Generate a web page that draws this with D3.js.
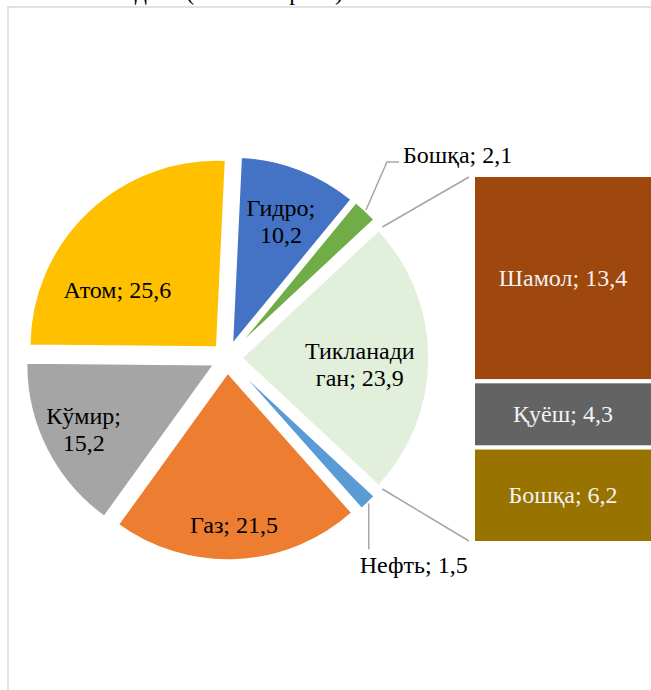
<!DOCTYPE html>
<html>
<head>
<meta charset="utf-8">
<script src="https://cdn.jsdelivr.net/npm/d3@7"></script>
<style>
  body { margin: 0; background: #fff; }
  svg { display: block; }
</style>
</head>
<body>
<script>
var width = 651,
  height = 690;

var FONT = "'Liberation Serif'";

// pie slices, clockwise, starting right after the combined slice
var pieCategories = ["Нефть", "Газ", "Кўмир", "Атом", "Гидро", "Бошқа"];
var pieValues = [1.5, 21.5, 15.2, 25.6, 10.2, 2.1];
var pieColors = ["#5B9BD5", "#ED7D31", "#A5A5A5", "#FFC000", "#4472C4", "#70AD47"];

// the combined slice, broken out into the bar on the right
var combinedCategory = "Тикланадиган";
var combinedColor = "#E2EFDA";
var barCategories = ["Шамол", "Қуёш", "Бошқа"];
var barValues = [13.4, 4.3, 6.2];
var barColors = ["#9E480E", "#636363", "#997300"];

var titleText = "2020 йилдаги (жами энергия)";

var cx = 227, cy = 358, radius = 187, explode = 15;

var fmt = function (v) { return d3.format(".1f")(v).replace(".", ","); };

// label placement: angle (deg, clockwise from top) and distance from pie centre
var insideLabels = {
  "Тикланадиган": { a: 93, r: 133, breakAt: 9 },
  "Газ": { a: 177.6, r: 167 },
  "Кўмир": { a: 243.6, r: 160, breakAt: 6 },
  "Атом": { a: 301.8, r: 129 },
  "Гидро": { a: 21.5, r: 147, breakAt: 6 }
};
// outside labels: leader elbow offset from slice edge
var outsideLabels = {
  "Бошқа": { elbow: [21, -48], tail: 12, side: "right" },
  "Нефть": { elbow: [0, 46], side: "below" }
};

var svg = d3.select("body").append("svg")
  .attr("width", width)
  .attr("height", height)
  .style("font-family", FONT);

// chart frame (cropped)
svg.append("rect")
  .attr("x", 8)
  .attr("y", 7)
  .attr("width", width + 20)
  .attr("height", height + 20)
  .attr("fill", "#fff")
  .attr("stroke", "#d9d9d9")
  .attr("stroke-width", 1.5);

// title, mostly above the visible area (as in the cropped original)
svg.append("text")
  .attr("x", 43)
  .attr("y", 0)
  .style("font-family", FONT)
  .attr("font-size", 24)
  .attr("fill", "#000")
  .text(titleText);

var combinedValue = d3.sum(barValues);
var total = combinedValue + d3.sum(pieValues);

var slices = [{ name: combinedCategory, value: combinedValue, color: combinedColor }]
  .concat(pieCategories.map(function (c, i) {
    return { name: c, value: pieValues[i], color: pieColors[i] };
  }));

var half = Math.PI * combinedValue / total;
var pie = d3.pie()
  .sort(null)
  .value(function (d) { return d.value; })
  .startAngle(Math.PI / 2 - half)
  .endAngle(Math.PI / 2 - half + 2 * Math.PI);

var arc = d3.arc().innerRadius(0).outerRadius(radius);
var arcs = pie(slices);

function offset(d) {
  var m = (d.startAngle + d.endAngle) / 2;
  return [cx + explode * Math.sin(m), cy - explode * Math.cos(m)];
}

var g = svg.append("g");

g.selectAll("path")
  .data(arcs)
  .enter()
  .append("path")
  .attr("transform", function (d) { var o = offset(d); return "translate(" + o[0] + "," + o[1] + ")"; })
  .attr("d", arc)
  .attr("fill", function (d) { return d.data.color; })
  .attr("stroke", "#fff")
  .attr("stroke-width", 1.5);

// inside labels
arcs.forEach(function (d) {
  var lab = insideLabels[d.data.name];
  if (!lab) return;
  var txt = d.data.name + "; " + fmt(d.data.value);
  var lines = lab.breakAt ? [txt.slice(0, lab.breakAt), txt.slice(lab.breakAt).trim()] : [txt];
  var a = lab.a * Math.PI / 180;
  var x = cx + lab.r * Math.sin(a), y = cy - lab.r * Math.cos(a);
  var t = svg.append("text")
    .attr("text-anchor", "middle")
    .style("font-family", FONT)
    .attr("font-size", 24)
    .attr("fill", "#000");
  lines.forEach(function (l, i) {
    t.append("tspan")
      .attr("x", x)
      .attr("y", y + (i - (lines.length - 1) / 2) * 27)
      .attr("dominant-baseline", "central")
      .text(l);
  });
});

// outside labels with leader lines
arcs.forEach(function (d) {
  var lab = outsideLabels[d.data.name];
  if (!lab) return;
  var o = offset(d);
  var m = (d.startAngle + d.endAngle) / 2;
  var p0 = [o[0] + (radius + 1) * Math.sin(m), o[1] - (radius + 1) * Math.cos(m)];
  var p1 = [p0[0] + lab.elbow[0], p0[1] + lab.elbow[1]];
  var pts = [p0, p1];
  var txt = d.data.name + "; " + fmt(d.data.value);
  var t = svg.append("text")
    .style("font-family", FONT)
    .attr("font-size", 24)
    .attr("fill", "#000")
    .attr("dominant-baseline", "central")
    .text(txt);
  if (lab.side === "right") {
    var p2 = [p1[0] + lab.tail, p1[1]];
    pts.push(p2);
    t.attr("x", p2[0] + 4).attr("y", p2[1] - 7);
  } else {
    t.attr("x", p1[0] - 9).attr("y", p1[1] + 16);
  }
  svg.append("path")
    .attr("d", d3.line()(pts))
    .attr("fill", "none")
    .attr("stroke", "#a6a6a6")
    .attr("stroke-width", 1.5);
});

// bar of the combined slice
var barX = 473, barW = 180;
var y = d3.scaleLinear()
  .domain([0, combinedValue])
  .range([175, 543]);

var stack = d3.cumsum(barValues);
var bars = barCategories.map(function (c, i) {
  return { name: c, value: barValues[i], y0: stack[i] - barValues[i], y1: stack[i], color: barColors[i] };
});

svg.selectAll("rect.bar")
  .data(bars)
  .enter()
  .append("rect")
  .attr("class", "bar")
  .attr("x", barX)
  .attr("y", function (d) { return y(d.y0); })
  .attr("width", barW)
  .attr("height", function (d) { return y(d.y1) - y(d.y0); })
  .attr("fill", function (d) { return d.color; })
  .attr("stroke", "#fff")
  .attr("stroke-width", 4);

svg.selectAll("text.bar")
  .data(bars)
  .enter()
  .append("text")
  .attr("class", "bar")
  .attr("x", barX + barW / 2)
  .attr("y", function (d) { return (y(d.y0) + y(d.y1)) / 2; })
  .attr("text-anchor", "middle")
  .attr("dominant-baseline", "central")
  .style("font-family", FONT)
  .attr("font-size", 24)
  .attr("fill", "#f2f2f2")
  .text(function (d) { return d.name + "; " + fmt(d.value); });

// connector lines from the combined slice to the bar
var comb = arcs[0], co = offset(comb);
[[comb.startAngle, 0], [comb.endAngle, combinedValue]].forEach(function (e) {
  var p0 = [co[0] + (radius + 5) * Math.sin(e[0]), co[1] - (radius + 5) * Math.cos(e[0])];
  var yy = y(e[1]) + (e[1] === 0 ? 2 : -2);
  svg.append("path")
    .attr("d", d3.line()([p0, [barX - 4, yy]]))
    .attr("stroke", "#a6a6a6")
    .attr("stroke-width", 1.5)
    .attr("fill", "none");
});
</script>
</body>
</html>
